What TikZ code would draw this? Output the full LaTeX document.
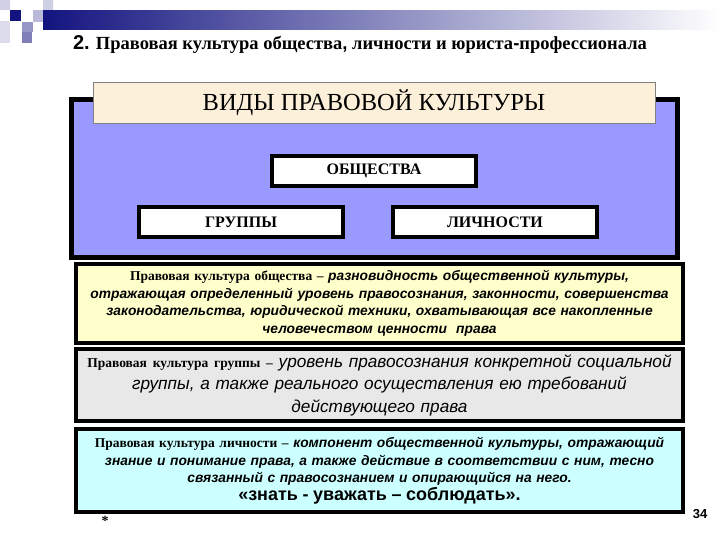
\documentclass[tikz,border=0pt]{standalone}
\usepackage{fontspec}
\setmainfont{Liberation Serif}
\setsansfont{Liberation Sans}
\definecolor{navy}{HTML}{141480}
\definecolor{panelblue}{HTML}{9999FF}
\definecolor{cream}{HTML}{FDF0DA}
\definecolor{paleyellow}{HTML}{FFFFCC}
\definecolor{palegray}{HTML}{E8E8E8}
\definecolor{palecyan}{HTML}{CCFFFF}
\newcommand{\defn}[1]{{\rmfamily\bfseries\upshape\fontsize{13.5}{17}\selectfont #1}}

\begin{document}
\begin{tikzpicture}[x=1pt,y=-1pt,
  heavybox/.style={draw=black, line width=4pt, inner sep=0pt},
  kindbox/.style={heavybox, fill=white, minimum width=204, minimum height=30,
    font=\bfseries\fontsize{16}{18}\selectfont},
  defbox/.style={heavybox, minimum width=607, align=center, text width=604,
    font=\sffamily\itshape\bfseries\fontsize{13.8}{17.5}\selectfont}]
  \useasboundingbox[fill=white] (0,0) rectangle (720,540);
  \fill[navy!20] (0,0) rectangle (10,10) (43,0) rectangle (53,10);
  \fill[navy] (10,10) rectangle (21,21);
  \fill[navy!30] (33,10) rectangle (43,22);
  \fill[navy!45] (22,22) rectangle (33,32);
  \fill[navy!55] (22,32) rectangle (32,43);
  \fill[navy!15] (0,21) rectangle (10,43);
  \shade[left color=navy, right color=white] (43,11) rectangle (720,30);
  \node (title) at (360,45)
    {\bfseries\fontsize{18.5}{21}\selectfont{\sffamily\fontsize{20}{21}\selectfont 2.} Правовая культура общества{\sffamily,} личности и юриста{\sffamily-}профессионала};
  \node[heavybox, fill=panelblue, line width=5pt, minimum width=606, minimum height=158] (panel) at (374,178.5) {};
  \node[draw=gray, fill=cream, minimum width=562, minimum height=41,
    font=\fontsize{24.5}{27}\selectfont] (header) at (374,102.5) {ВИДЫ ПРАВОВОЙ КУЛЬТУРЫ};
  \node[kindbox] (society) at (374,171) {ОБЩЕСТВА};
  \node[kindbox] (group) at (241,222) {ГРУППЫ};
  \node[kindbox] (person) at (495,222) {ЛИЧНОСТИ};
  \node[defbox, fill=paleyellow, minimum height=79] (defsociety) at (379.5,303.5)
    {\defn{Правовая культура общества –} разновидность общественной культуры,\\
     отражающая определенный уровень правосознания, законности, совершенства\\
     законодательства, юридической техники, охватывающая все накопленные\\
     человечеством ценности\ \ права};
  \node[defbox, fill=palegray, minimum height=72, font=\sffamily\itshape\fontsize{17.2}{22.5}\selectfont] (defgroup) at (379.5,385)
    {\defn{Правовая культура группы –} уровень правосознания конкретной социальной\\
     группы, а также реального осуществления ею требований\\
     действующего права};
  \node[defbox, fill=palecyan, minimum height=83] (defperson) at (379.5,470.5)
    {\defn{Правовая культура личности –} компонент общественной культуры, отражающий\\
     знание и понимание права, а также действие в соответствии с ним, тесно\\
     связанный с правосознанием и опирающийся на него.\\
     {\upshape\fontsize{18}{20}\selectfont«знать - уважать – соблюдать».}};
  \node[font=\bfseries\fontsize{14}{14}\selectfont] (star) at (105,521) {*};
  \node[font=\sffamily\bfseries\fontsize{13}{15}\selectfont] (pageno) at (700,514) {34};
\end{tikzpicture}
\end{document}
